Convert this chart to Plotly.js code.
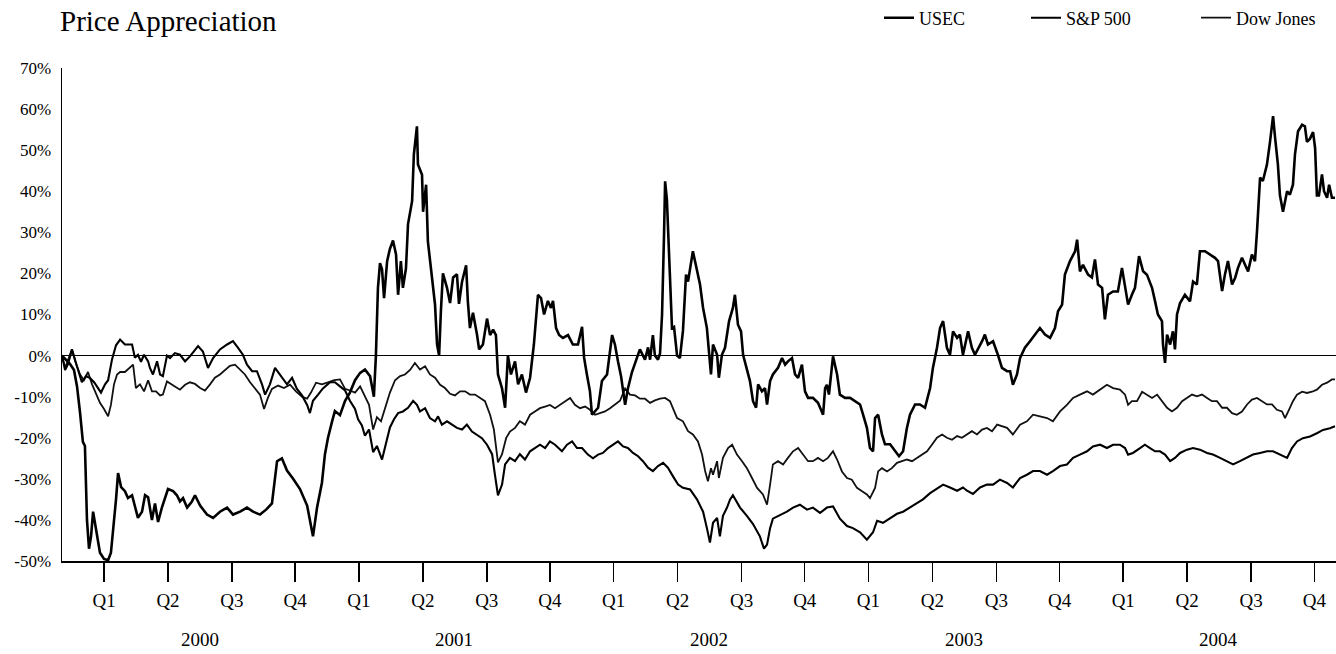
<!DOCTYPE html>
<html>
<head>
<meta charset="utf-8">
<script src="https://cdn.plot.ly/plotly-3.0.1.min.js"></script>
<style>
html, body { margin: 0; padding: 0; background: #ffffff; }
#chart { width: 1336px; height: 654px; }
</style>
</head>
<body>
<div id="chart"></div>
<script>
// ---- Data (decimal year, % price change since start of 2000) ----
const usecYears = [2000.000,2000.016,2000.031,2000.047,2000.059,2000.071,2000.082,2000.090,2000.098,2000.106,2000.114,2000.122,2000.133,2000.149,2000.165,2000.181,2000.192,2000.200,2000.212,2000.220,2000.232,2000.247,2000.259,2000.275,2000.286,2000.298,2000.314,2000.326,2000.338,2000.353,2000.365,2000.377,2000.392,2000.404,2000.416,2000.436,2000.451,2000.463,2000.475,2000.491,2000.510,2000.522,2000.542,2000.569,2000.593,2000.620,2000.648,2000.671,2000.699,2000.726,2000.750,2000.777,2000.801,2000.824,2000.844,2000.863,2000.883,2000.907,2000.934,2000.962,2000.973,2000.985,2001.001,2001.020,2001.032,2001.044,2001.060,2001.071,2001.091,2001.111,2001.130,2001.150,2001.170,2001.189,2001.209,2001.224,2001.232,2001.236,2001.240,2001.248,2001.256,2001.264,2001.276,2001.287,2001.299,2001.311,2001.319,2001.330,2001.338,2001.350,2001.358,2001.374,2001.381,2001.393,2001.397,2001.413,2001.417,2001.429,2001.436,2001.452,2001.464,2001.472,2001.480,2001.487,2001.495,2001.511,2001.523,2001.535,2001.550,2001.558,2001.570,2001.586,2001.593,2001.601,2001.613,2001.629,2001.637,2001.652,2001.668,2001.680,2001.692,2001.703,2001.711,2001.727,2001.739,2001.750,2001.762,2001.778,2001.790,2001.805,2001.821,2001.837,2001.852,2001.868,2001.880,2001.892,2001.907,2001.919,2001.927,2001.939,2001.951,2001.966,2001.986,2002.005,2002.025,2002.041,2002.049,2002.060,2002.072,2002.080,2002.092,2002.104,2002.119,2002.139,2002.159,2002.170,2002.182,2002.194,2002.210,2002.221,2002.237,2002.253,2002.268,2002.288,2002.300,2002.308,2002.319,2002.327,2002.339,2002.347,2002.355,2002.363,2002.367,2002.374,2002.382,2002.394,2002.402,2002.414,2002.425,2002.437,2002.449,2002.457,2002.476,2002.492,2002.504,2002.516,2002.531,2002.539,2002.547,2002.555,2002.571,2002.578,2002.590,2002.602,2002.618,2002.633,2002.641,2002.653,2002.665,2002.673,2002.688,2002.700,2002.712,2002.724,2002.732,2002.747,2002.759,2002.767,2002.779,2002.790,2002.810,2002.826,2002.838,2002.849,2002.865,2002.877,2002.889,2002.904,2002.916,2002.928,2002.947,2002.967,2002.987,2002.995,2003.002,2003.010,2003.026,2003.042,2003.053,2003.073,2003.093,2003.112,2003.132,2003.144,2003.159,2003.171,2003.183,2003.191,2003.203,2003.218,2003.230,2003.250,2003.269,2003.285,2003.301,2003.316,2003.328,2003.348,2003.367,2003.387,2003.407,2003.418,2003.434,2003.446,2003.458,2003.473,2003.485,2003.497,2003.513,2003.524,2003.536,2003.556,2003.571,2003.583,2003.611,2003.622,2003.634,2003.654,2003.673,2003.689,2003.709,2003.721,2003.732,2003.748,2003.760,2003.779,2003.799,2003.819,2003.838,2003.858,2003.878,2003.897,2003.909,2003.925,2003.936,2003.956,2003.976,2003.984,2003.995,2004.007,2004.027,2004.042,2004.054,2004.066,2004.082,2004.093,2004.105,2004.125,2004.144,2004.160,2004.172,2004.184,2004.199,2004.211,2004.227,2004.243,2004.258,2004.278,2004.290,2004.301,2004.317,2004.321,2004.329,2004.337,2004.349,2004.360,2004.368,2004.376,2004.388,2004.407,2004.427,2004.439,2004.454,2004.466,2004.486,2004.505,2004.525,2004.537,2004.553,2004.564,2004.576,2004.592,2004.604,2004.615,2004.631,2004.643,2004.655,2004.670,2004.682,2004.690,2004.694,2004.702,2004.713,2004.729,2004.741,2004.753,2004.761,2004.772,2004.780,2004.792,2004.808,2004.819,2004.831,2004.839,2004.851,2004.867,2004.878,2004.886,2004.898,2004.910,2004.918,2004.925,2004.933,2004.945,2004.953,2004.965,2004.973,2004.984,2004.996];
const usecChange = [0,-1,-2,-3.5,-7.5,-14,-21,-22,-40,-47,-44,-38,-42,-48,-49.5,-49.8,-48,-43,-35,-28.6,-32,-33,-34.7,-34,-37,-39.5,-38,-34,-34.5,-40,-36,-40.5,-37,-35,-32.5,-33,-34,-35.5,-34.7,-37,-35.5,-34,-36.5,-38.7,-39.5,-38,-37,-38.7,-38,-37,-38,-38.7,-37.5,-36,-25.7,-25,-28,-30,-32.5,-36.5,-40,-44,-37,-31,-24,-20,-16,-13.5,-14.5,-11,-9,-6,-4.2,-3.4,-5,-10,0,10,16.5,22.5,21,14,23,26,28,24.6,14.8,23,16.5,21.3,32,37.6,49,55.8,46.5,44,35,41.6,27.8,19,12.4,2.7,0,10.8,20,16.5,12.8,19,19.8,12.6,18,22,13,6.7,10.4,5,1.5,2.7,9,5,6.3,5,-4.6,-8,-12.7,0,-4.6,-1.4,-7,-4.6,-9,-5.4,2.7,14.8,14,10,13.3,11.6,13.3,6.7,5,4.3,5,2.7,2.7,7,-0.5,-4.6,-8.7,-14.4,-13.6,-12.7,-6.2,-4.6,5,2.7,-1.4,-5,-12,-8,-4,-1,1.5,-1,2,-1,5,0,-1,0.5,10,30,42.4,38,24.6,6.7,7,0,-0.6,6,19.7,18,25.4,20.5,17.3,11.6,6.7,1,-4.6,2.7,0.2,-5.4,0.2,1.9,8.4,11.6,14.8,7.5,5.9,0.2,-3,-6.2,-11.1,-12.7,-7,-8.7,-7.9,-11.9,-6.2,-4.6,-3,-0.6,-2.2,-1.4,-0.6,-4.6,-5.4,-2.2,-8.7,-10.3,-10.3,-11.5,-14.4,-7.9,-7.1,-9.5,-0.2,-4.6,-9.5,-10.3,-10.3,-11.1,-11.9,-14.4,-17.6,-22.5,-23.3,-15.2,-14.4,-19.2,-21.6,-21.6,-23.3,-24.5,-23.3,-17.6,-14.4,-11.9,-11.9,-12.7,-7.9,-3,1.9,6.7,8.4,1.9,0.2,5.9,4.3,5.1,0.2,5.9,1.9,0.2,3.5,5.1,2.7,3.5,0.2,-3,-3.8,-3.8,-7.1,-4.6,-0.6,1.9,3.5,5.1,6.7,5.1,4.3,6.7,10.8,12.4,19.7,23,25.4,28.2,20.5,22.1,19.7,19,23.4,17.3,16.5,8.8,14.8,15.6,15.6,21.3,17.3,12.4,14.8,16.5,24.2,20.5,19.7,16.5,13.2,10,8.4,2.7,-1.8,5.1,2.7,5.9,1.5,10,12.8,14.8,13.2,18,17.3,25.4,25.4,24.6,23.8,23,15.7,19.7,23,17.3,18.9,21.3,23.8,22.1,20.5,24.6,23,30.3,35,43.3,42.5,46.5,52,58.3,53,46.5,39,35,40,39.2,41.6,49,54.6,56.2,55.8,52,52.8,54.4,50.5,39,39,44.1,40,38.4,41.6,38.4,38.4];

const spYears = [2000.000,2000.012,2000.024,2000.039,2000.051,2000.063,2000.078,2000.094,2000.110,2000.126,2000.141,2000.153,2000.169,2000.181,2000.196,2000.212,2000.228,2000.247,2000.275,2000.286,2000.298,2000.310,2000.322,2000.338,2000.345,2000.357,2000.373,2000.385,2000.396,2000.412,2000.424,2000.443,2000.463,2000.483,2000.502,2000.522,2000.534,2000.553,2000.573,2000.593,2000.620,2000.648,2000.671,2000.691,2000.710,2000.726,2000.746,2000.765,2000.785,2000.797,2000.816,2000.836,2000.856,2000.883,2000.903,2000.922,2000.942,2000.962,2000.973,2000.985,2001.005,2001.024,2001.052,2001.071,2001.091,2001.111,2001.130,2001.150,2001.162,2001.177,2001.189,2001.205,2001.221,2001.236,2001.256,2001.272,2001.287,2001.303,2001.319,2001.338,2001.358,2001.378,2001.393,2001.405,2001.425,2001.444,2001.464,2001.476,2001.491,2001.511,2001.531,2001.550,2001.570,2001.589,2001.609,2001.629,2001.648,2001.668,2001.688,2001.699,2001.711,2001.727,2001.739,2001.758,2001.778,2001.797,2001.817,2001.837,2001.856,2001.876,2001.896,2001.915,2001.935,2001.962,2001.982,2002.002,2002.021,2002.041,2002.064,2002.084,2002.104,2002.123,2002.143,2002.162,2002.182,2002.202,2002.221,2002.241,2002.261,2002.280,2002.300,2002.319,2002.339,2002.359,2002.378,2002.398,2002.418,2002.437,2002.465,2002.492,2002.516,2002.531,2002.543,2002.555,2002.571,2002.582,2002.594,2002.610,2002.622,2002.633,2002.661,2002.688,2002.712,2002.739,2002.755,2002.767,2002.779,2002.790,2002.818,2002.845,2002.869,2002.896,2002.924,2002.947,2002.975,2003.002,2003.026,2003.053,2003.081,2003.104,2003.132,2003.159,2003.183,2003.199,2003.222,2003.250,2003.277,2003.301,2003.328,2003.356,2003.379,2003.407,2003.434,2003.458,2003.485,2003.513,2003.536,2003.552,2003.575,2003.603,2003.630,2003.654,2003.681,2003.709,2003.732,2003.760,2003.787,2003.811,2003.838,2003.866,2003.889,2003.917,2003.944,2003.968,2003.995,2004.023,2004.046,2004.074,2004.101,2004.125,2004.152,2004.172,2004.184,2004.203,2004.231,2004.250,2004.270,2004.290,2004.309,2004.329,2004.349,2004.368,2004.388,2004.415,2004.439,2004.466,2004.494,2004.517,2004.545,2004.572,2004.596,2004.623,2004.651,2004.674,2004.702,2004.729,2004.753,2004.780,2004.808,2004.827,2004.847,2004.870,2004.898,2004.925,2004.949,2004.976,2004.996];
const spChange = [0,-3.5,-2,1.5,-1,-3.5,-6.5,-5,-5.5,-6.5,-8,-9,-7,-6,-1,2.5,3.9,2.7,2.7,-0.5,0.2,-1.5,0.2,-1.4,-3,-4.6,-1.4,-4.6,-5,0,-0.6,0.6,0.2,-1.4,-0.2,1.5,2.3,1,-3,-0.6,1.5,2.7,3.5,1.9,0.2,-2.2,-3.8,-3.8,-7,-9.5,-7,-3,-4.6,-7,-5.4,-8.1,-9.7,-12,-14,-11,-9.5,-8,-6.5,-6.5,-7.5,-8.5,-11,-13,-15.5,-17,-19.5,-18,-23.5,-22,-25.3,-21,-17.5,-15.5,-14,-13.6,-12.7,-11,-12,-13.6,-12.8,-15.2,-16,-14.8,-16.8,-16,-16.8,-17.6,-18,-16.8,-18.5,-19.3,-20.1,-21.7,-24,-29,-34,-31.4,-26.5,-24.9,-25.7,-24,-25.3,-23.3,-22.5,-21.7,-22.5,-20.9,-21.7,-23.3,-21.7,-20.9,-22.5,-22.5,-24.1,-25,-24.1,-23.7,-22.5,-21.7,-20.9,-22.1,-22.5,-23.7,-24.5,-25.7,-27.3,-28.1,-26.9,-26.1,-27.3,-29.4,-31.4,-32.2,-32.6,-35,-38,-42,-45.5,-40.7,-39.5,-44,-39,-37,-35,-34,-37,-39,-41,-44,-47,-46,-42,-39.7,-38.9,-38,-37,-36.3,-37.5,-37,-38.3,-37,-36.7,-39.7,-41.5,-42,-43,-44.8,-43,-40.2,-40.7,-39.5,-38.5,-38,-37,-36,-35,-33.5,-32.5,-31.4,-32.1,-32.9,-32.1,-32.9,-33.7,-32.1,-31.4,-31.4,-30.2,-31,-32.1,-29.8,-29,-28.1,-28.1,-29,-28.1,-26.9,-26.5,-24.9,-24.1,-23.3,-22.1,-21.7,-22.5,-21.7,-21.7,-22.5,-24.1,-23.7,-22.5,-21.7,-22.5,-23.3,-23.3,-24.1,-25.7,-24.9,-23.7,-22.9,-22.5,-22.9,-23.7,-24.1,-24.9,-25.7,-26.5,-25.7,-24.9,-24.1,-23.7,-23.3,-23.3,-24.1,-24.9,-22.5,-20.9,-20.1,-19.7,-18.9,-18.1,-17.7,-17.2];

const dowYears = [2000.000,2000.012,2000.024,2000.039,2000.055,2000.071,2000.086,2000.102,2000.118,2000.133,2000.149,2000.165,2000.181,2000.192,2000.204,2000.216,2000.228,2000.247,2000.267,2000.279,2000.290,2000.306,2000.322,2000.338,2000.353,2000.369,2000.385,2000.396,2000.412,2000.428,2000.443,2000.463,2000.483,2000.502,2000.522,2000.542,2000.561,2000.581,2000.600,2000.620,2000.640,2000.659,2000.679,2000.699,2000.718,2000.738,2000.757,2000.777,2000.793,2000.808,2000.824,2000.848,2000.871,2000.895,2000.918,2000.942,2000.962,2000.977,2000.997,2001.020,2001.044,2001.068,2001.091,2001.111,2001.130,2001.150,2001.170,2001.189,2001.205,2001.221,2001.236,2001.252,2001.268,2001.287,2001.307,2001.327,2001.346,2001.366,2001.385,2001.405,2001.425,2001.444,2001.464,2001.484,2001.503,2001.523,2001.542,2001.562,2001.582,2001.601,2001.621,2001.641,2001.660,2001.680,2001.695,2001.711,2001.727,2001.743,2001.758,2001.778,2001.797,2001.817,2001.837,2001.856,2001.876,2001.896,2001.915,2001.935,2001.954,2001.974,2001.994,2002.013,2002.033,2002.053,2002.072,2002.092,2002.111,2002.131,2002.151,2002.170,2002.190,2002.210,2002.229,2002.249,2002.268,2002.288,2002.308,2002.327,2002.347,2002.367,2002.386,2002.414,2002.437,2002.457,2002.476,2002.496,2002.512,2002.524,2002.535,2002.547,2002.555,2002.571,2002.578,2002.594,2002.614,2002.630,2002.649,2002.669,2002.688,2002.708,2002.728,2002.751,2002.767,2002.779,2002.790,2002.810,2002.830,2002.849,2002.869,2002.889,2002.908,2002.928,2002.947,2002.967,2002.987,2003.006,2003.026,2003.042,2003.061,2003.081,2003.100,2003.120,2003.140,2003.159,2003.171,2003.191,2003.203,2003.218,2003.238,2003.257,2003.277,2003.297,2003.316,2003.336,2003.356,2003.375,2003.395,2003.414,2003.434,2003.454,2003.473,2003.493,2003.513,2003.532,2003.552,2003.571,2003.591,2003.611,2003.630,2003.650,2003.670,2003.689,2003.709,2003.732,2003.760,2003.787,2003.811,2003.838,2003.866,2003.889,2003.917,2003.944,2003.968,2003.995,2004.023,2004.046,2004.074,2004.101,2004.125,2004.152,2004.172,2004.184,2004.199,2004.219,2004.239,2004.258,2004.278,2004.298,2004.317,2004.337,2004.356,2004.376,2004.396,2004.415,2004.435,2004.454,2004.474,2004.494,2004.513,2004.533,2004.553,2004.572,2004.592,2004.611,2004.631,2004.651,2004.670,2004.690,2004.710,2004.729,2004.749,2004.768,2004.788,2004.800,2004.819,2004.831,2004.847,2004.867,2004.886,2004.906,2004.925,2004.945,2004.965,2004.984,2004.996];
const dowChange = [0,-3,-1,1.5,-2,-4.6,-6,-4,-7,-9,-11.5,-13,-14.8,-12,-7,-4.6,-4,-4,-3,-2.2,-7.9,-7,-8.7,-6,-8.7,-8.7,-9.7,-9.5,-6.3,-7,-7.5,-8.3,-7.1,-6.5,-6.9,-7.9,-8.5,-7,-5.4,-4.6,-3.4,-2.5,-2.2,-3.4,-4.6,-6.5,-7.9,-9.5,-13,-10.3,-8.1,-7.3,-7.9,-7.1,-8.7,-10,-10.5,-9,-6.6,-7,-6.5,-6,-5.8,-8.1,-8.5,-9,-7.5,-10,-12,-18,-15,-16,-13,-9,-6,-5,-4.6,-3.5,-1.8,-3.4,-2.6,-4.6,-5.4,-7.1,-7.9,-9.3,-9.7,-8.7,-8.7,-9.5,-9.5,-10.3,-11.1,-14.4,-18,-26,-24,-20.1,-18.5,-17.6,-16,-16.8,-14.4,-13.6,-12.8,-12.4,-12,-12.8,-12,-11.1,-10.3,-12,-12.8,-12.4,-13.2,-14.4,-14,-13.6,-12.8,-12,-11,-8,-9.5,-9.7,-10.5,-10.5,-11.5,-10.9,-10.5,-10.3,-11.1,-15.2,-16,-18.4,-19.2,-20.9,-24.1,-28.1,-30.6,-27.4,-29,-25.7,-29.8,-24.9,-22.5,-21.7,-24.1,-25.7,-27.4,-29.8,-32.2,-33.8,-36.3,-31.4,-26.5,-25.7,-26.5,-24.9,-23.3,-22.5,-24.1,-25.7,-25.7,-24.9,-25.7,-24.9,-23.3,-25.3,-28.2,-29.8,-30.2,-32.2,-33,-33.8,-34.7,-32.2,-28.2,-27.4,-28.2,-27.4,-26.1,-25.7,-25.3,-25.7,-24.9,-24.1,-23.3,-21.7,-20,-19.2,-20,-20.5,-19.6,-20,-19.2,-18.4,-19.2,-18,-17.6,-18.4,-16.8,-17.2,-17.6,-19.2,-16.8,-16,-14.4,-14.8,-15.2,-16,-13.6,-12,-10.3,-9.5,-8.7,-9.5,-8.3,-7.1,-7.9,-8.3,-9.5,-12,-11.1,-11.1,-8.8,-9.5,-10.3,-9.5,-11.1,-12.7,-13.6,-12.7,-11.1,-10.3,-9.5,-9.9,-9.5,-10.3,-11.1,-11.1,-12.7,-12.7,-14,-14.4,-13.6,-11.9,-10.7,-10.3,-11.1,-11.9,-11.9,-13.2,-13.6,-15.2,-12.7,-11.1,-9.5,-8.8,-9.1,-8.8,-8.3,-7.1,-6.6,-5.8,-5.8];

// ---- Axis labels ----
const yTickValues = [-50, -40, -30, -20, -10, 0, 10, 20, 30, 40, 50, 60, 70];
const yTickLabels = ['-50%', '-40%', '-30%', '-20%', '-10%', '0%', '10%', '20%', '30%', '40%', '50%', '60%', '70%'];
const quarterTicks = [2000.165, 2000.416, 2000.667, 2000.915, 2001.165, 2001.416, 2001.667, 2001.915, 2002.165, 2002.416, 2002.667, 2002.915, 2003.165, 2003.416, 2003.667, 2003.915, 2004.165, 2004.416, 2004.667, 2004.915];
const quarterLabels = ['Q1', 'Q2', 'Q3', 'Q4', 'Q1', 'Q2', 'Q3', 'Q4', 'Q1', 'Q2', 'Q3', 'Q4', 'Q1', 'Q2', 'Q3', 'Q4', 'Q1', 'Q2', 'Q3', 'Q4'];
const yearLabels = ['2000', '2001', '2002', '2003', '2004'];
const yearLabelCenters = [2000.54, 2001.54, 2002.54, 2003.54, 2004.54];

const FONT = '"Liberation Serif", "Times New Roman", Times, serif';

const traces = [
  { x: dowYears, y: dowChange, name: 'Dow Jones', type: 'scatter', mode: 'lines',
    line: { color: '#111111', width: 1.8 }, legend: 'legend3', hoverinfo: 'skip' },
  { x: spYears, y: spChange, name: 'S&amp;P 500', type: 'scatter', mode: 'lines',
    line: { color: '#000000', width: 2.1 }, legend: 'legend2', hoverinfo: 'skip' },
  { x: usecYears, y: usecChange, name: 'USEC', type: 'scatter', mode: 'lines',
    line: { color: '#000000', width: 2.6 }, legend: 'legend', hoverinfo: 'skip' }
];

function legendAt(px) {
  return {
    orientation: 'h', xref: 'container', yref: 'container',
    x: px / 1336, xanchor: 'left', y: 1 - 18 / 654, yanchor: 'middle',
    font: { family: FONT, size: 18, color: '#000' },
    bgcolor: 'rgba(0,0,0,0)', borderwidth: 0, itemwidth: 30
  };
}

const layout = {
  width: 1336, height: 654, autosize: false,
  margin: { l: 62, r: 0, t: 68, b: 93, pad: 0, autoexpand: false },
  paper_bgcolor: '#ffffff', plot_bgcolor: '#ffffff',
  font: { family: FONT, color: '#000000' },
  title: {
    text: 'Price Appreciation', font: { family: FONT, size: 29, color: '#000' },
    xref: 'container', x: 60 / 1336, xanchor: 'left',
    yref: 'container', y: 1 - 21 / 654, yanchor: 'middle'
  },
  showlegend: true,
  legend: legendAt(879),
  legend2: legendAt(1026),
  legend3: legendAt(1196),
  xaxis: {
    range: [2000, 2005], fixedrange: true,
    showgrid: false, zeroline: false,
    showline: true, linecolor: '#000', linewidth: 1.5,
    ticks: 'outside', ticklen: 19, tickwidth: 1.5, tickcolor: '#000',
    tickmode: 'array', tickvals: quarterTicks, ticktext: quarterLabels,
    tickfont: { family: FONT, size: 19, color: '#000' },
    ticklabelstandoff: 3
  },
  yaxis: {
    range: [-50, 70], fixedrange: true,
    showgrid: false,
    zeroline: true, zerolinecolor: '#000', zerolinewidth: 1.5,
    showline: true, linecolor: '#000', linewidth: 1.5,
    ticks: '', tickmode: 'array', tickvals: yTickValues, ticktext: yTickLabels,
    tickfont: { family: FONT, size: 17, color: '#000' },
    ticklabelstandoff: 6
  },
  annotations: yearLabels.map((label, i) => ({
    text: label, x: yearLabelCenters[i], xref: 'x',
    y: -(639 - 561) / 493, yref: 'paper', yanchor: 'middle', xanchor: 'center',
    showarrow: false, font: { family: FONT, size: 19, color: '#000' }
  }))
};

Plotly.newPlot('chart', traces, layout, { displayModeBar: false, staticPlot: true });
</script>
</body>
</html>
